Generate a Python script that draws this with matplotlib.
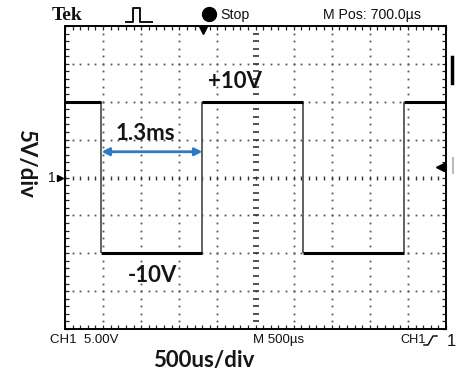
import matplotlib
matplotlib.use("Agg")
import matplotlib.pyplot as plt
import numpy as np

# scope settings
volts_per_div = 5.0
ms_per_div = 0.5
n_xdiv, n_ydiv = 10, 8

# captured square wave: switching instants (ms) and the two rail levels (V)
edge_times = [0.479, 1.804, 3.123, 4.455]
high_level = 10.0
low_level = -10.0
pulse_width_ms = 1.3

W, H = 461, 378


def fx(x):
    return x / W


def fy(y):
    return 1 - y / H


fig = plt.figure(figsize=(W / 100, H / 100), dpi=100)
fig.patch.set_facecolor("white")

# graticule area
gl, gr, gt, gb = 65, 446, 26, 329
ax = fig.add_axes([fx(gl), fy(gb), (gr - gl) / W, (gb - gt) / H])
t_max = n_xdiv * ms_per_div
v_max = n_ydiv / 2 * volts_per_div
ax.set_xlim(0, t_max)
ax.set_ylim(-v_max, v_max)
for s in ax.spines.values():
    s.set_color("black")
    s.set_linewidth(1.4)
ax.set_xticks(np.arange(0, t_max + 1e-9, ms_per_div / 5))
ax.set_yticks(np.arange(-v_max, v_max + 1e-9, volts_per_div / 5))
ax.tick_params(direction="in", length=3, width=0.9, color="#222",
               top=True, right=True, labelleft=False, labelbottom=False)

# dotted grid lines
dot_kw = dict(ls="none", marker="s", ms=1.3, color="#555", mew=0)
xs_fine = np.arange(0, t_max + 1e-9, ms_per_div / 5)
ys_fine = np.arange(-v_max, v_max + 1e-9, volts_per_div / 5)
for k in range(1, n_ydiv):
    y = -v_max + k * volts_per_div
    if abs(y) > 1e-9:
        ax.plot(xs_fine, np.full_like(xs_fine, y), **dot_kw)
for k in range(1, n_xdiv):
    x = k * ms_per_div
    if abs(x - t_max / 2) > 1e-9:
        ax.plot(np.full_like(ys_fine, x), ys_fine, **dot_kw)

# centre cross with small tick marks
ax.plot(xs_fine, np.zeros_like(xs_fine), ls="none", marker="|", ms=3.5,
        mew=1.0, color="#333")
ax.plot(np.full_like(ys_fine, t_max / 2), ys_fine, ls="none", marker="_",
        ms=4, mew=1.2, color="#333")

# square wave trace
t = [0.0]
v = [high_level]
level = high_level
for e in edge_times:
    t += [e, e]
    nxt = low_level if level == high_level else high_level
    v += [level, nxt]
    level = nxt
t.append(t_max)
v.append(level)
t = np.array(t)
v = np.array(v)
for i in range(0, len(t) - 1, 2):
    ax.plot(t[i:i + 2], v[i:i + 2], color="black", lw=2.2,
            solid_capstyle="butt", zorder=4)
ax.vlines(edge_times, low_level, high_level, colors="#555", lw=1.3, zorder=3)

# pulse width arrow
ax.annotate("", xy=(edge_times[0], 3.4), xytext=(edge_times[0] + pulse_width_ms + 0.025, 3.4),
            arrowprops=dict(arrowstyle="<|-|>", color="#2a7ac4", lw=2,
                            mutation_scale=11, shrinkA=0, shrinkB=0), zorder=5)

# annotations
lab = dict(family=["Lato", "DejaVu Sans"], fontweight="bold", color="#151515",
           ha="center", va="center")
fig.text(fx(235), fy(82), "+%dV" % high_level, fontsize=16, **lab)
fig.text(fx(152), fy(275), "%dV" % low_level, fontsize=16, **lab)
fig.text(fx(145), fy(133), "%.1fms" % pulse_width_ms, fontsize=16, **lab)
fig.text(fx(26), fy(163), "5V/div", fontsize=16, rotation=270, **lab)
fig.text(fx(204), fy(360), "500us/div", fontsize=16, **lab)

# scope readouts
scope = dict(family=["Liberation Sans Narrow", "Liberation Sans"], color="#111",
             va="center")
fig.text(fx(52), fy(15), "Tek", family="Liberation Serif", fontweight="bold",
         fontsize=14, color="#111", va="center")
fig.text(fx(220), fy(15), "Stop", fontsize=10.2, **scope)
fig.text(fx(323), fy(15), "M Pos: 700.0µs", fontsize=10.2, **scope)
fig.text(fx(50), fy(340), "CH1  5.00V", fontsize=9.5, **scope)
fig.text(fx(253), fy(340), "M 500µs", fontsize=9.5, **scope)
fig.text(fx(400), fy(340), "CH1", fontsize=9.2, **scope)
fig.text(fx(447), fy(341), "1", fontsize=12, **scope)
fig.text(fx(48), fy(178), "1", fontsize=10, **scope)

# small glyphs drawn in figure pixels
ov = fig.add_axes([0, 0, 1, 1], facecolor="none")
ov.set_xlim(0, W)
ov.set_ylim(H, 0)
ov.axis("off")
ov.plot([126, 133, 133, 140, 140, 152], [22, 22, 8, 8, 22, 22], color="#111", lw=1.4)
ov.plot([208.5], [14], marker="o", ms=10, color="black")
ov.plot([203], [30], marker="v", ms=6, color="black")
ov.plot([203, 203], [26, 29], color="black", lw=1.5)
ov.plot([424, 428, 433, 437], [345, 345, 336, 336], color="#111", lw=1.1)
ov.plot([60], [178], marker=">", ms=4, color="black")
ov.plot([440], [167], marker="<", ms=6, color="black")
ov.plot([440, 446], [167, 167], color="black", lw=1.5)
ov.plot([452, 452], [57, 83], color="black", lw=2.5)
ov.plot([453, 453], [158, 173], color="#bbb", lw=1.5)

fig.savefig("out.png", dpi=100)
